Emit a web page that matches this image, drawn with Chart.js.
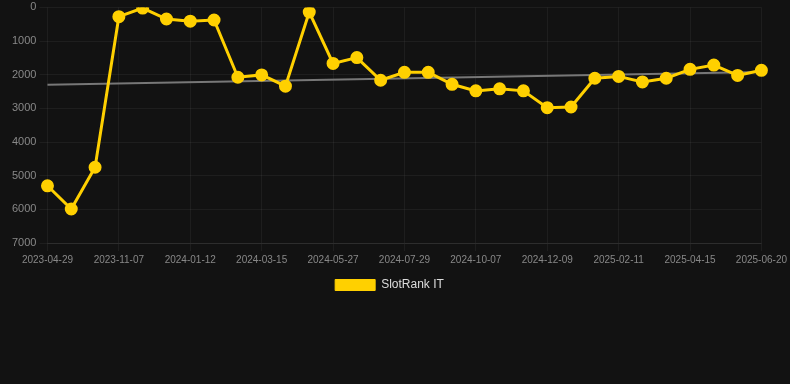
<!DOCTYPE html>
<html>
<head>
<meta charset="utf-8">
<script src="https://cdn.jsdelivr.net/npm/chart.js@4"></script>
<style>
  html, body { margin: 0; padding: 0; background: #121212; }
  #wrap { width: 790px; height: 305px; position: relative; }
</style>
</head>
<body>
<div id="wrap"><canvas id="rank"></canvas></div>
<script>
// ===== Data =====
const dates = [
  "2023-04-29", "2023-05-30", "2023-07-01", "2023-11-07", "2023-11-28", "2023-12-15",
  "2024-01-12", "2024-01-30", "2024-02-18", "2024-03-15", "2024-04-10", "2024-05-02",
  "2024-05-27", "2024-06-14", "2024-07-05", "2024-07-29", "2024-08-20", "2024-09-12",
  "2024-10-07", "2024-10-30", "2024-11-18", "2024-12-09", "2024-12-31", "2025-01-20",
  "2025-02-11", "2025-03-04", "2025-03-25", "2025-04-15", "2025-05-08", "2025-05-29",
  "2025-06-20"
];

const rankIT = [
  5300, 5990, 4750, 275, 20, 345, 410, 375, 2075, 2005, 2340,
  140, 1665, 1490, 2165, 1930, 1930, 2285, 2480, 2420, 2480,
  2980, 2960, 2105, 2050, 2215, 2105, 1840, 1715, 2020, 1870
];

// trend line: only end values, library draws the straight line between them
const trendIT = dates.map(() => null);
trendIT[0] = 2300;
trendIT[trendIT.length - 1] = 1920;

const yTicks = { min: 0, max: 7000, step: 1000 };

// ===== Chart =====
const ctx = document.getElementById("rank").getContext("2d");
const FONT = "Liberation Sans, Arial, sans-serif";

new Chart(ctx, {
  type: "line",
  data: {
    labels: dates,
    datasets: [
      {
        label: "SlotRank IT",
        data: rankIT,
        borderColor: "#ffd000",
        backgroundColor: "#ffd000",
        borderWidth: 3,
        pointRadius: 5,
        pointHoverRadius: 6,
        tension: 0
      },
      {
        label: "trend",
        data: trendIT,
        spanGaps: true,
        borderColor: "#777777",
        borderWidth: 2,
        pointRadius: 0,
        tension: 0
      }
    ]
  },
  options: {
    responsive: true,
    maintainAspectRatio: false,
    animation: false,
    layout: { autoPadding: false, padding: { left: 9, right: 20, top: 0, bottom: 4 } },
    scales: {
      x: {
        ticks: {
          color: "#888",
          font: { family: FONT, size: 10 },
          maxRotation: 0,
          autoSkip: true,
          maxTicksLimit: 11
        },
        grid: { color: "rgba(255,255,255,0.05)" },
        border: { color: "rgba(255,255,255,0.07)" }
      },
      y: {
        reverse: true,
        min: yTicks.min,
        max: yTicks.max,
        ticks: {
          stepSize: yTicks.step,
          color: "#888",
          font: { family: FONT, size: 11, lineHeight: 0.8 },
          callback: v => String(v)
        },
        grid: { color: "rgba(255,255,255,0.05)" },
        border: { display: false }
      }
    },
    plugins: {
      legend: {
        position: "bottom",
        labels: {
          color: "#ddd",
          boxWidth: 40,
          boxHeight: 11,
          font: { family: FONT, size: 12 },
          generateLabels: chart => {
            const items = Chart.defaults.plugins.legend.labels.generateLabels(chart);
            return items
              .filter(it => it.text !== "trend")
              .map(it => Object.assign(it, { lineWidth: 1 }));
          }
        }
      },
      tooltip: { enabled: false }
    }
  }
});
</script>
</body>
</html>
